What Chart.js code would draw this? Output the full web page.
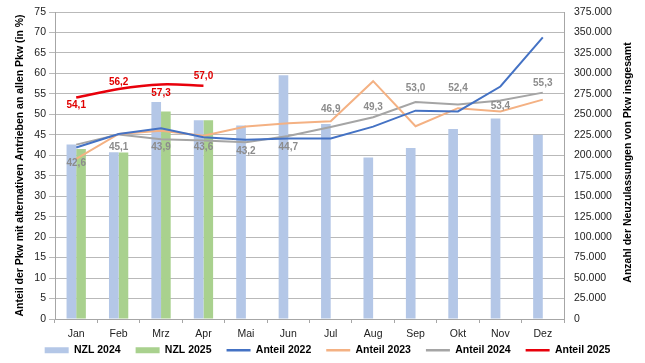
<!DOCTYPE html>
<html>
<head>
<meta charset="utf-8">
<script src="https://cdn.jsdelivr.net/npm/chart.js@4/dist/chart.umd.min.js"></script>
<style>
  html, body { margin: 0; padding: 0; background: #ffffff; }
  #wrap { width: 645px; height: 363px; }
</style>
</head>
<body>
<div id="wrap"><canvas id="c" width="645" height="363"></canvas></div>
<script>
// ---- data ----
const categories = ['Jan','Feb','Mrz','Apr','Mai','Jun','Jul','Aug','Sep','Okt','Nov','Dez'];
const nzl2024 = [213168, 203736, 264924, 242794, 236425, 297763, 238263, 197322, 208848, 231992, 244934, 225180];
const nzl2025 = [207640, 203434, 253497, 242728, null, null, null, null, null, null, null, null];
const anteil2022 = [41.9, 45.2, 46.6, 44.4, 43.8, 44.1, 44.1, 47.0, 50.9, 50.7, 56.8, 68.8];
const anteil2023 = [39.1, 45.2, 46.0, 44.8, 47.0, 47.8, 48.3, 58.1, 47.1, 51.5, 50.7, 53.6];
const anteil2024 = [42.6, 45.1, 43.9, 43.6, 43.2, 44.7, 46.9, 49.3, 53.0, 52.4, 53.4, 55.3];
const anteil2025 = [54.1, 56.2, 57.3, 57.0, null, null, null, null, null, null, null, null];
const leftTicks = { min: 0, max: 75, step: 5 };
const rightTicks = { min: 0, max: 375000, step: 25000 };

const FONT = "'Liberation Sans', Arial, sans-serif";
const fmtDE = v => String(Math.round(v)).replace(/\B(?=(\d{3})+(?!\d))/g, '.');
const fmtPct = v => v.toFixed(1).replace('.', ',');

const valueLabels = {
  id: 'valueLabels',
  afterDatasetsDraw(chart, args, opts) {
    const ctx = chart.ctx;
    (opts.sets || []).forEach(s => {
      const meta = chart.getDatasetMeta(s.ds);
      const data = chart.data.datasets[s.ds].data;
      ctx.save();
      ctx.font = s.font;
      ctx.fillStyle = s.color;
      ctx.textAlign = 'center';
      ctx.textBaseline = 'middle';
      meta.data.forEach((pt, i) => {
        if (data[i] == null) return;
        ctx.fillText(fmtPct(data[i]), pt.x, pt.y + s.offsets[i]);
      });
      ctx.restore();
    });
  }
};

const rightTitle = {
  id: 'rightTitle',
  afterDraw(chart, args, opts) {
    const ctx = chart.ctx;
    const ca = chart.chartArea;
    ctx.save();
    ctx.translate(opts.x, (ca.top + ca.bottom) / 2 - 3);
    ctx.rotate(-Math.PI / 2);
    ctx.font = opts.font;
    ctx.fillStyle = '#000';
    ctx.textAlign = 'center';
    ctx.textBaseline = 'middle';
    ctx.fillText(opts.text, 0, 0);
    ctx.restore();
  }
};

// moves the legend box so it sits close under the month labels
const legendShift = {
  id: 'legendShift',
  afterLayout(chart, args, opts) {
    if (chart.legend) {
      chart.legend.top -= opts.shiftY;
      chart.legend.bottom -= opts.shiftY;
      chart.legend.left += opts.shiftX;
      chart.legend.right += opts.shiftX;
    }
  }
};

const legendStyles = ['rect','rect','line','line','line','line'];
const noEdgePadding = s => { s.paddingTop = 0; s.paddingBottom = 0; };

new Chart(document.getElementById('c'), {
  data: {
    labels: categories,
    datasets: [
      { type: 'bar', label: 'NZL 2024', data: nzl2024, yAxisID: 'y2', backgroundColor: '#b4c7e7', order: 2,
        categoryPercentage: 0.455, barPercentage: 1.0 },
      { type: 'bar', label: 'NZL 2025', data: nzl2025, yAxisID: 'y2', backgroundColor: '#a9d18e', order: 2,
        categoryPercentage: 0.455, barPercentage: 1.0 },
      { type: 'line', label: 'Anteil 2022', data: anteil2022, yAxisID: 'y', borderColor: '#4472c4', backgroundColor: '#4472c4',
        borderWidth: 2, pointRadius: 0, tension: 0, order: 1 },
      { type: 'line', label: 'Anteil 2023', data: anteil2023, yAxisID: 'y', borderColor: '#f4b183', backgroundColor: '#f4b183',
        borderWidth: 2, pointRadius: 0, tension: 0, order: 1 },
      { type: 'line', label: 'Anteil 2024', data: anteil2024, yAxisID: 'y', borderColor: '#a5a5a5', backgroundColor: '#a5a5a5',
        borderWidth: 2, pointRadius: 0, tension: 0, order: 1 },
      { type: 'line', label: 'Anteil 2025', data: anteil2025, yAxisID: 'y', borderColor: '#e8000b', backgroundColor: '#e8000b',
        borderWidth: 2.5, pointRadius: 0, tension: 0.35, order: 1 }
    ]
  },
  options: {
    responsive: false,
    animation: false,
    layout: { padding: { top: 12, bottom: -13.5, left: 0, right: 0 } },
    plugins: {
      tooltip: { enabled: false },
      legendShift: { shiftY: 11, shiftX: 5 },
      legend: {
        position: 'bottom',
        labels: {
          usePointStyle: true,
          pointStyleWidth: 24,
          boxHeight: 6,
          padding: 15,
          color: '#000',
          font: { family: FONT, size: 10.5, weight: 'bold' },
          sort: (a, b) => a.datasetIndex - b.datasetIndex,
          generateLabels(chart) {
            const items = Chart.defaults.plugins.legend.labels.generateLabels(chart);
            items.forEach(it => {
              const ds = chart.data.datasets[it.datasetIndex];
              it.pointStyle = legendStyles[it.datasetIndex];
              it.fillStyle = ds.backgroundColor;
              it.strokeStyle = ds.type === 'bar' ? ds.backgroundColor : ds.borderColor;
              it.lineWidth = ds.type === 'bar' ? 0 : 2.5;
            });
            return items;
          }
        }
      },
      valueLabels: {
        sets: [
          { ds: 4, color: '#8c8c8c', font: "bold 10px " + FONT,
            offsets: [19, 13, 8, 7, 9, 11, -18, -10, -14, -16, 6, -9] },
          { ds: 5, color: '#e00000', font: "bold 10px " + FONT,
            offsets: [8, -7, 9, -9, 0, 0, 0, 0, 0, 0, 0, 0] }
        ]
      },
      rightTitle: { text: 'Anzahl der Neuzulassungen von Pkw insgesamt', x: 628, font: "bold 10.5px " + FONT }
    },
    scales: {
      x: {
        grid: { drawOnChartArea: false, drawTicks: true, tickLength: 4, offset: true, color: '#a6a6a6' },
        border: { color: '#a6a6a6' },
        ticks: { color: '#222', font: { family: FONT, size: 10.5 }, padding: 5, maxRotation: 0 },
        afterFit(s) { s.height = 22; }
      },
      y: {
        position: 'left',
        min: leftTicks.min, max: leftTicks.max,
        ticks: { stepSize: leftTicks.step, color: '#222', font: { family: FONT, size: 10.5 }, padding: 3 },
        grid: { color: '#b9b9b9', tickLength: 6, lineWidth: 1 },
        border: { color: '#a6a6a6' },
        title: { display: true, text: 'Anteil der Pkw mit alternativen Antrieben an allen Pkw (in %)',
          color: '#000', font: { family: FONT, size: 10.5, weight: 'bold' }, padding: { top: 14, bottom: 0 } },
        afterFit(s) { s.width = 55; noEdgePadding(s); }
      },
      y2: {
        position: 'right',
        min: rightTicks.min, max: rightTicks.max,
        ticks: { stepSize: rightTicks.step, color: '#222', font: { family: FONT, size: 10.5 }, padding: 10,
          callback: v => fmtDE(v) },
        grid: { drawOnChartArea: false, drawTicks: false },
        border: { color: '#a6a6a6' },
        afterFit(s) { s.width = 81; noEdgePadding(s); }
      }
    }
  },
  plugins: [valueLabels, rightTitle, legendShift]
});
</script>
</body>
</html>
